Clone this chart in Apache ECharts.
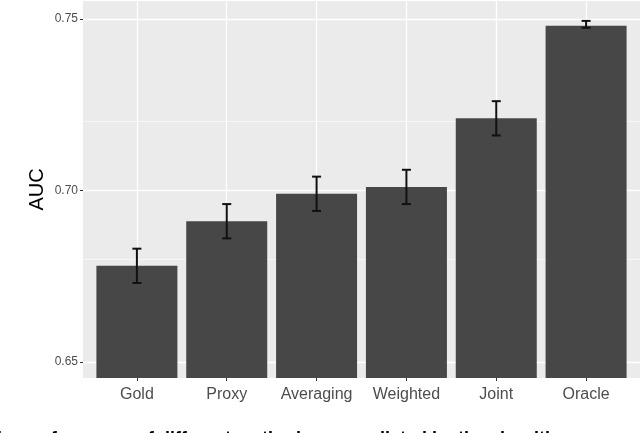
<!DOCTYPE html>
<html>
<head>
<meta charset="utf-8">
<script src="https://cdn.jsdelivr.net/npm/echarts@6/dist/echarts.min.js"></script>
<style>
html,body{margin:0;padding:0;background:#fff;}
#chart{width:640px;height:433px;}
</style>
</head>
<body>
<div id="chart"></div>
<script>
const categories = ['Gold', 'Proxy', 'Averaging', 'Weighted', 'Joint', 'Oracle'];
const aucMean = [0.678, 0.691, 0.699, 0.701, 0.721, 0.748];
const aucLow  = [0.673, 0.686, 0.694, 0.696, 0.716, 0.7474];
const aucHigh = [0.683, 0.696, 0.704, 0.706, 0.726, 0.7494];
const yMajorTicks = [0.65, 0.70, 0.75];
const yMinorTicks = [0.675, 0.725];
const captionText = 'The performance of different methods, as predicted by the algorithms';

const xs = categories.map((c, i) => i + 1);
const barData = categories.map((c, i) => [i + 1, aucMean[i]]);
const errData = categories.map((c, i) => [i + 1, aucLow[i], aucHigh[i]]);

const FONT = '"Liberation Sans", Arial, sans-serif';
const chart = echarts.init(document.getElementById('chart'));
const gridLine = (w) => ({ color: '#FFFFFF', width: w, type: 'solid' });

chart.setOption({
  animation: false,
  grid: {
    left: 83, right: -1, top: 1, bottom: 55,
    show: true, backgroundColor: '#EBEBEB', borderWidth: 0
  },
  graphic: [{
    type: 'text', left: -14, top: 430,
    style: { text: captionText, font: 'bold 18px "Liberation Sans", Arial, sans-serif', fill: '#000' }
  }],
  xAxis: {
    type: 'value', min: 0.4, max: 6.6,
    axisLine: { show: false },
    splitLine: { show: false },
    axisTick: { show: true, customValues: xs, length: 3, lineStyle: { color: '#333333', width: 1 } },
    axisLabel: {
      customValues: xs, margin: 9,
      formatter: (v) => categories[Math.round(v) - 1] || '',
      color: '#4D4D4D', fontSize: 16, fontFamily: FONT
    }
  },
  yAxis: {
    type: 'value', min: 0.6453, max: 0.7552,
    name: 'AUC', nameLocation: 'middle', nameGap: 36, nameRotate: 90,
    nameMoveOverlap: false,
    nameTextStyle: { color: '#000', fontSize: 20, fontFamily: FONT },
    axisLine: { show: false },
    splitLine: { show: false },
    axisTick: { show: true, customValues: yMajorTicks, length: 3, lineStyle: { color: '#333333', width: 1 } },
    axisLabel: {
      customValues: yMajorTicks, margin: 5,
      formatter: (v) => v.toFixed(2),
      color: '#4D4D4D', fontSize: 12, fontFamily: FONT
    }
  },
  series: [
    {
      type: 'line', data: [], silent: true, z: 1,
      markLine: {
        silent: true, symbol: 'none', label: { show: false }, z: 1,
        data: [
          ...yMinorTicks.map(v => ({ yAxis: v, lineStyle: gridLine(0.6) })),
          ...yMajorTicks.map(v => ({ yAxis: v, lineStyle: gridLine(1.3) })),
          ...xs.map(v => ({ xAxis: v, lineStyle: gridLine(1.3) }))
        ]
      }
    },
    {
      type: 'bar', data: barData, barWidth: 81, z: 5,
      itemStyle: { color: '#474747' },
      silent: true
    },
    {
      type: 'custom', data: errData, silent: true, z: 10,
      renderItem: (params, api) => {
        const x = api.value(0);
        const lo = api.coord([x, api.value(1)]);
        const hi = api.coord([x, api.value(2)]);
        const hw = 4.5;
        const st = { stroke: '#111111', lineWidth: 2 };
        return {
          type: 'group',
          children: [
            { type: 'line', shape: { x1: lo[0], y1: lo[1], x2: hi[0], y2: hi[1] }, style: st },
            { type: 'line', shape: { x1: lo[0] - hw, y1: lo[1], x2: lo[0] + hw, y2: lo[1] }, style: st },
            { type: 'line', shape: { x1: hi[0] - hw, y1: hi[1], x2: hi[0] + hw, y2: hi[1] }, style: st }
          ]
        };
      }
    }
  ]
});
</script>
</body>
</html>
